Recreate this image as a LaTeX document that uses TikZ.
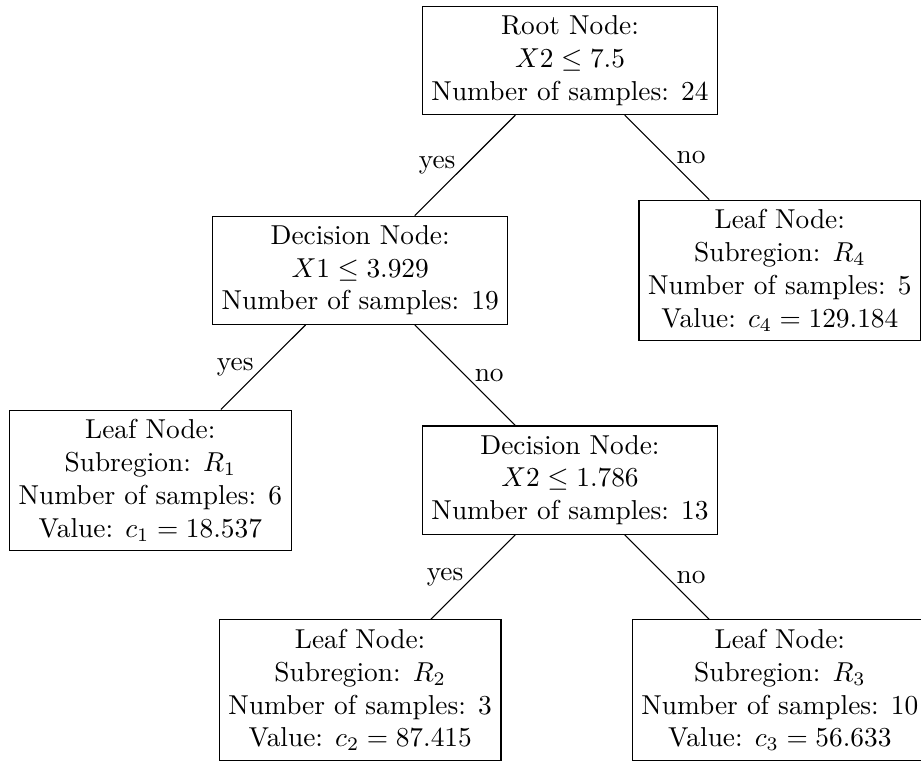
\documentclass[tikz,border=0pt]{standalone}
\usepackage{amsmath}
\usetikzlibrary{positioning}

\begin{document}
\begin{tikzpicture}[
        node distance=2.695cm,
        splitbox/.style={rectangle, draw, align=center},
        leafbox/.style={rectangle, draw, align=center}
    ]
        \useasboundingbox (-7.321,0.777) rectangle (4.508,-9.048);

        % Splits
        \node (root) [splitbox] {Root Node:\\ $X2 \leq 7.5$\\ Number of samples: 24};
        \node (split1) [splitbox, below of=root, xshift=-2.695cm] {Decision Node:\\ $X1 \leq 3.929$\\ Number of samples: 19};
        \node (split2) [splitbox, below of=split1, xshift=2.695cm] {Decision Node:\\ $X2 \leq 1.786$\\ Number of samples: 13};

        % Leaves
        \node (leafR4) [leafbox, below of=root, xshift=2.695cm] {Leaf Node:\\ Subregion: $R_4$\\ Number of samples: 5\\ Value: $c_4 = 129.184$};
        \node (leafR1) [leafbox, below of=split1, xshift=-2.695cm] {Leaf Node:\\ Subregion: $R_1$\\ Number of samples: 6\\ Value: $c_1 = 18.537$};
        \node (leafR2) [leafbox, below of=split2, xshift=-2.695cm] {Leaf Node:\\ Subregion: $R_2$\\ Number of samples: 3\\ Value: $c_2 = 87.415$};
        \node (leafR3) [leafbox, below of=split2, xshift=2.695cm] {Leaf Node:\\ Subregion: $R_3$\\ Number of samples: 10\\ Value: $c_3 = 56.633$};

        % Branches
        \draw (root) -- node[left] {yes} (split1);
        \draw (root) -- node[right] {no} (leafR4);
        \draw (split1) -- node[left] {yes} (leafR1);
        \draw (split1) -- node[right] {no} (split2);
        \draw (split2) -- node[left] {yes} (leafR2);
        \draw (split2) -- node[right] {no} (leafR3);
    \end{tikzpicture}
\end{document}
